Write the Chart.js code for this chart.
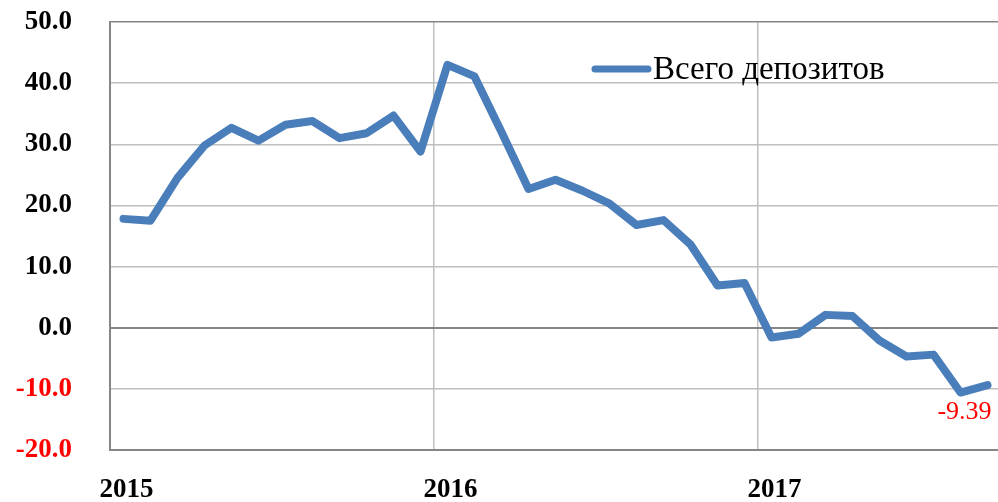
<!DOCTYPE html>
<html>
<head>
<meta charset="utf-8">
<script src="https://cdn.jsdelivr.net/npm/chart.js@4"></script>
<style>
  html, body { margin: 0; padding: 0; background: #ffffff; overflow: hidden; }
  #deposits { display: block; }
</style>
</head>
<body>
<canvas id="deposits" width="1001" height="502"></canvas>
<script>
var months = [
  "2015-01", "2015-02", "2015-03", "2015-04", "2015-05", "2015-06",
  "2015-07", "2015-08", "2015-09", "2015-10", "2015-11", "2015-12",
  "2016-01", "2016-02", "2016-03", "2016-04", "2016-05", "2016-06",
  "2016-07", "2016-08", "2016-09", "2016-10", "2016-11", "2016-12",
  "2017-01", "2017-02", "2017-03", "2017-04", "2017-05", "2017-06",
  "2017-07", "2017-08", "2017-09"
];
var totalDeposits = [
  17.8, 17.5, 24.5, 29.8, 32.7, 30.6, 33.2, 33.8, 31.0, 31.8, 34.7, 28.8,
  43.0, 41.1, 32.0, 22.7, 24.2, 22.4, 20.3, 16.8, 17.6, 13.6, 6.9, 7.3,
  -1.6, -1.0, 2.1, 1.9, -2.1, -4.7, -4.4, -10.6, -9.39
];
var seriesName = "Всего депозитов";
var yTicks = [-20, -10, 0, 10, 20, 30, 40, 50];

var lineColor = "#4a7ebb";
var serif = "'Liberation Serif', 'DejaVu Serif', serif";

// legend drawn inside the plot, plus the red value label on the last point
var extras = {
  id: "extras",
  afterDatasetsDraw: function (chart) {
    var ctx = chart.ctx;
    var area = chart.chartArea;
    var meta = chart.getDatasetMeta(0);
    var last = meta.data[meta.data.length - 1];
    var value = totalDeposits[totalDeposits.length - 1];

    ctx.save();
    ctx.fillStyle = "#ff0000";
    ctx.font = "26px " + serif;
    ctx.textAlign = "center";
    ctx.textBaseline = "middle";
    ctx.fillText(value.toFixed(2), last.x - 23, last.y + 27);

    var lx = area.left + 482;
    var ly = area.top + 47;
    ctx.strokeStyle = lineColor;
    ctx.lineWidth = 7;
    ctx.lineCap = "round";
    ctx.beginPath();
    ctx.moveTo(lx + 3, ly);
    ctx.lineTo(lx + 56, ly);
    ctx.stroke();
    ctx.fillStyle = "#000000";
    ctx.font = "33px " + serif;
    ctx.textAlign = "left";
    ctx.textBaseline = "middle";
    ctx.fillText(seriesName, lx + 61, ly + 1);
    ctx.restore();
  }
};

function draw_chart() {
  var config = {
    type: "line",
    data: {
      labels: months,
      datasets: [
        {
          label: seriesName,
          data: totalDeposits,
          borderColor: lineColor,
          backgroundColor: lineColor,
          borderWidth: 8,
          borderJoinStyle: "round",
          borderCapStyle: "round",
          pointRadius: 0,
          tension: 0,
        },
      ],
    },
    options: {
      responsive: false,
      animation: false,
      layout: { padding: { top: 22, right: 0, bottom: 0, left: 0 } },
      plugins: {
        legend: { display: false },
        tooltip: { enabled: false },
      },
      scales: {
        x: {
          offset: true,
          grid: {
            offset: true,
            drawTicks: false,
            color: function (c) {
              if (c.index === 0) return "#868686";
              return c.index % 12 === 0 ? "#bfbfbf" : "rgba(0,0,0,0)";
            },
            lineWidth: function (c) {
              return c.index === 0 ? 2 : 1.5;
            },
          },
          border: { color: "#868686", width: 2 },
          ticks: {
            autoSkip: false,
            maxRotation: 0,
            padding: 24,
            labelOffset: 3,
            color: "#000000",
            font: { family: serif, size: 27, weight: "bold" },
            callback: function (v, i) {
              return i % 12 === 0 ? months[i].slice(0, 4) : "";
            },
          },
          afterFit: function (scale) {
            scale.height = 52;
            scale.paddingLeft = 0;
            scale.paddingRight = 0;
          },
        },
        y: {
          min: yTicks[0],
          max: yTicks[yTicks.length - 1],
          afterBuildTicks: function (scale) {
            scale.ticks = yTicks.map(function (v) { return { value: v }; });
          },
          grid: {
            drawTicks: false,
            color: function (c) {
              var v = c.tick.value;
              if (v === 0 || v === yTicks[yTicks.length - 1]) return "#868686";
              return "#bfbfbf";
            },
            lineWidth: function (c) {
              return c.tick.value === 0 ? 2 : 1.5;
            },
          },
          border: { color: "#868686", width: 2 },
          ticks: {
            padding: 38,
            color: function (c) {
              return c.tick.value < 0 ? "#ff0000" : "#000000";
            },
            font: { family: serif, size: 27, weight: "bold" },
            callback: function (v) {
              return Number(v).toFixed(1);
            },
          },
          afterFit: function (scale) {
            scale.width = 110;
            scale.paddingTop = 0;
            scale.paddingBottom = 0;
          },
        },
      },
    },
    plugins: [extras],
  };
  var canvas = document.getElementById("deposits");
  if (canvas.chart) {
    canvas.chart.destroy();
  }
  var ctx = canvas.getContext("2d");
  canvas.chart = new Chart(ctx, config);
}

draw_chart();
</script>
</body>
</html>
